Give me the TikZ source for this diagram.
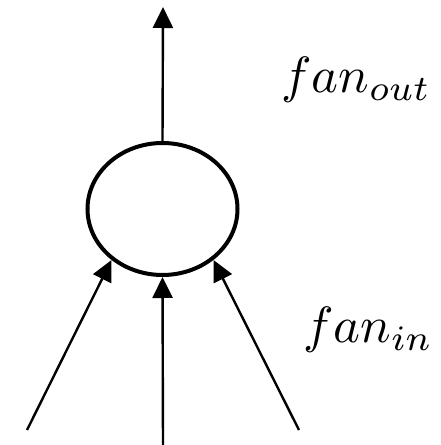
\documentclass[tikz,border=0pt]{standalone}
\usepackage{tikz}
\usetikzlibrary{arrows.meta,positioning,shapes.geometric}
\tikzset{
  unit/.style={ellipse, draw=black, line width=4pt, minimum width=150pt,
    minimum height=132pt, inner sep=0pt},
  edge/.style={-{Triangle[length=21pt,width=20pt]}, draw=black, line width=2.4pt},
  lbl/.style={scale=5.1, inner sep=0pt},
}
\begin{document}
\begin{tikzpicture}[x=1pt,y=1pt]
  \useasboundingbox (0,0) rectangle (441,445);
  \node[unit] (neuron) at (162.5,236) {};
  \coordinate (top) at (163,438);
  \coordinate (inl) at (27,15);
  \coordinate (inm) at (163,0);
  \coordinate (inr) at (299,15);
  \node[lbl, anchor=base west] (fout) at (280,352) {$fan_{out}$};
  \node[lbl, anchor=base west] (fin) at (302,102) {$fan_{in}$};
  \draw[edge] (neuron.north) -- (top);
  \draw[edge] (inl) -- (neuron.225);
  \draw[edge] (inm) -- (neuron.south);
  \draw[edge] (inr) -- (neuron.315);
\end{tikzpicture}
\end{document}
